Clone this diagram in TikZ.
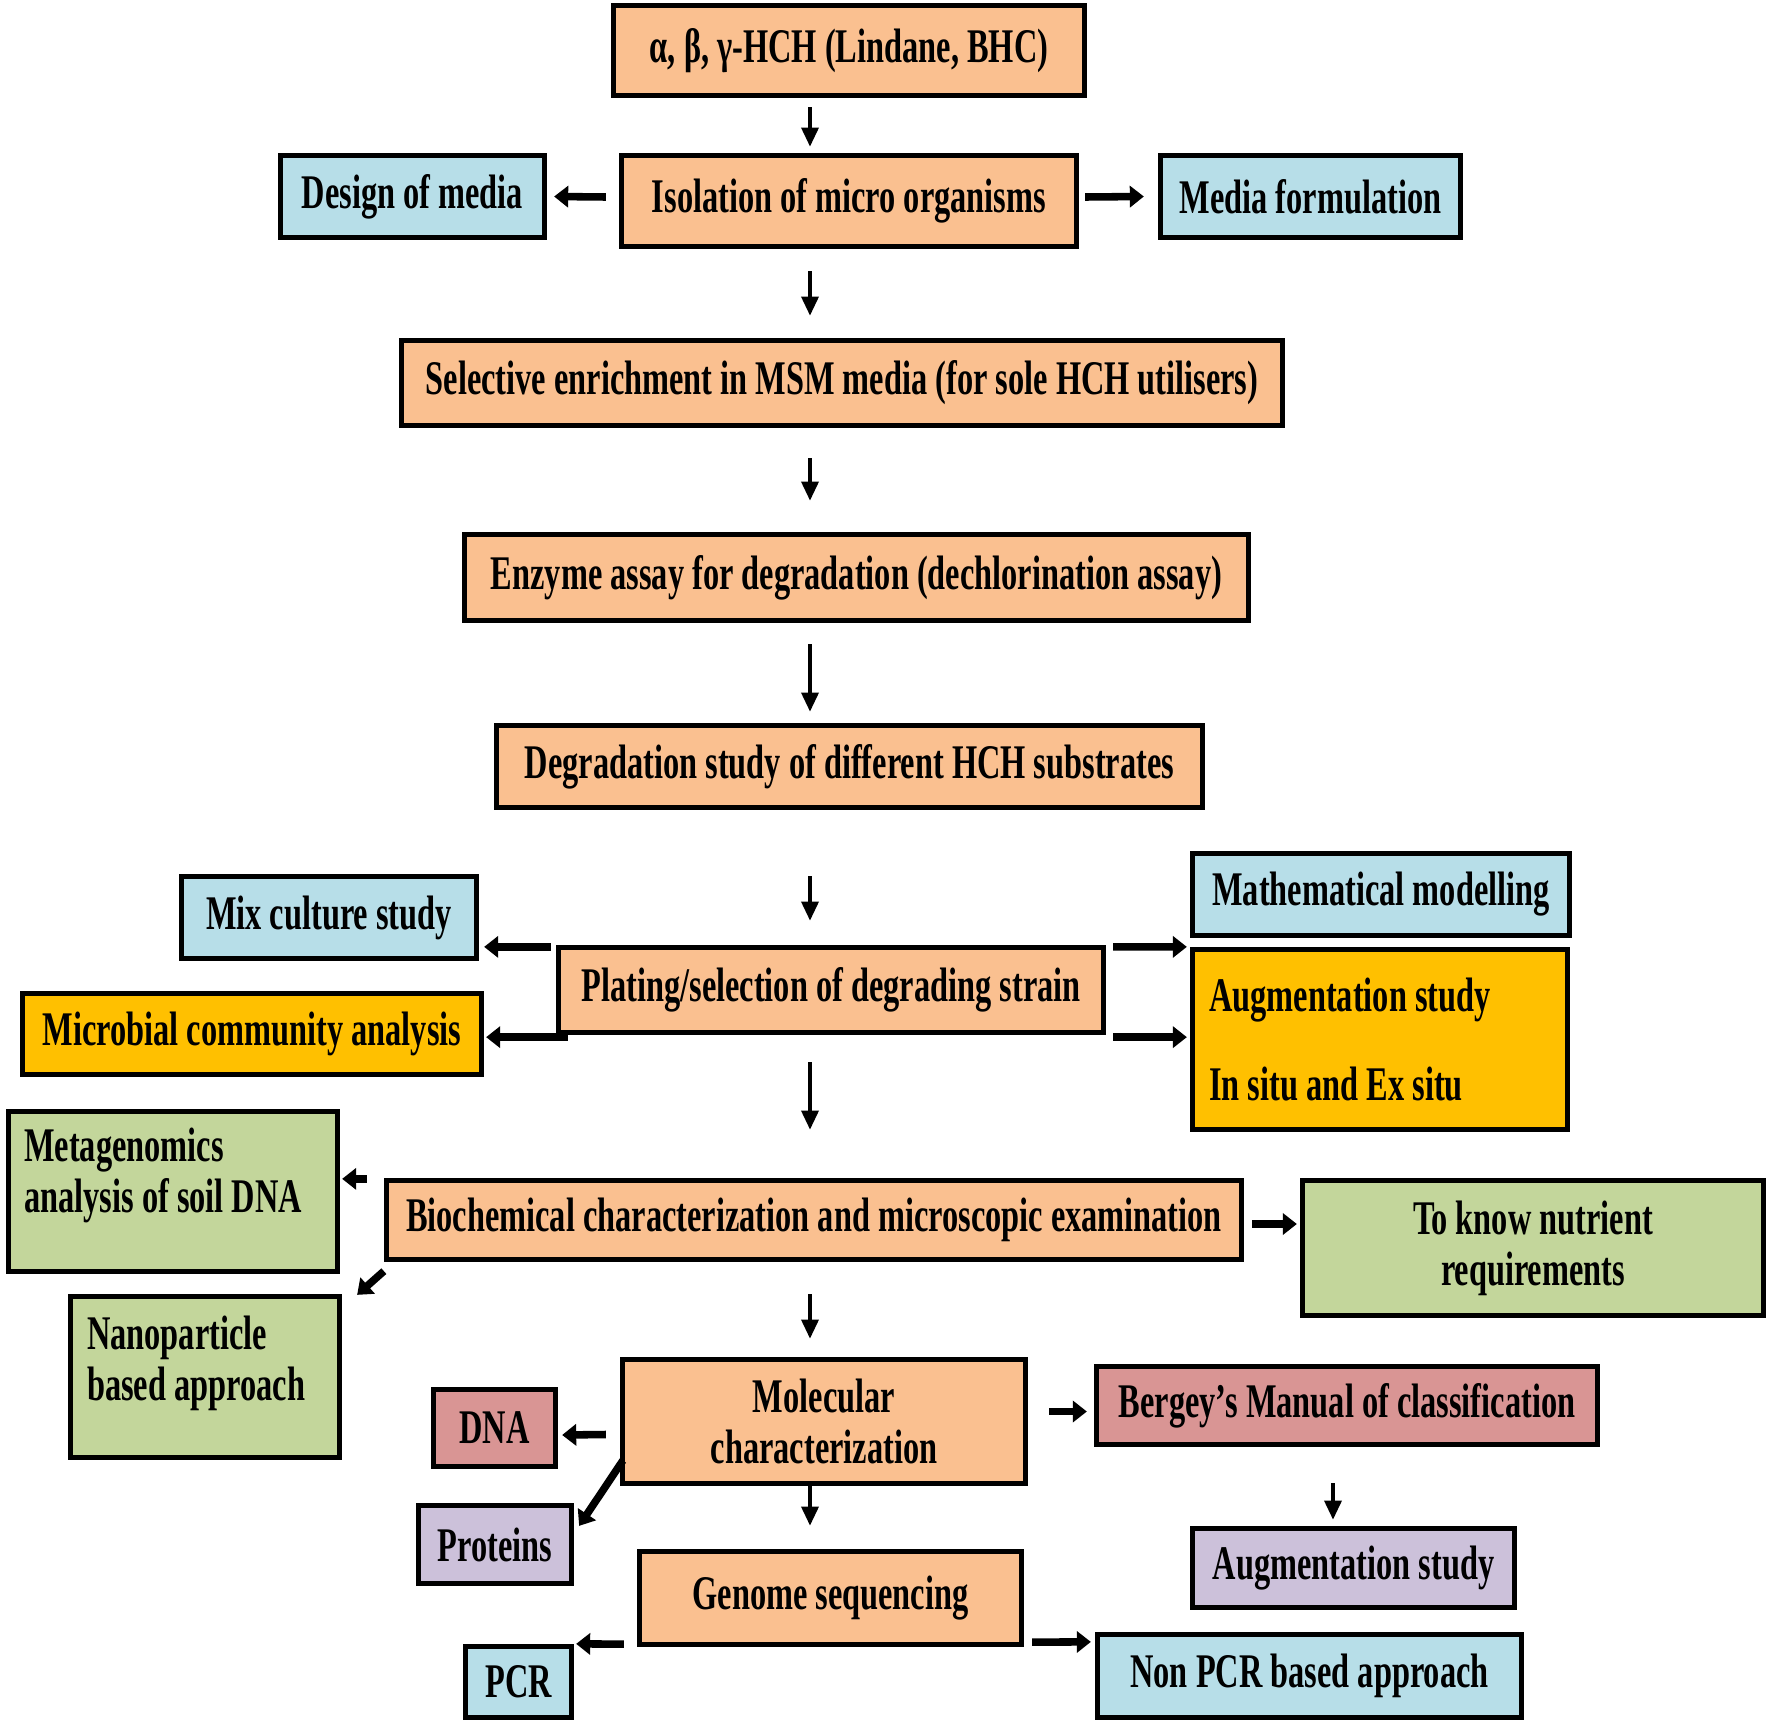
\documentclass[tikz,border=0pt]{standalone}
\usepackage{fontspec}
\setmainfont{Liberation Serif}[FakeStretch=0.67]
\usetikzlibrary{arrows.meta,calc}
\definecolor{peach}{HTML}{FAC090}
\definecolor{skyb}{HTML}{B7DEE8}
\definecolor{gold}{HTML}{FFC000}
\definecolor{olivel}{HTML}{C3D69B}
\definecolor{rose}{HTML}{D99594}
\definecolor{lav}{HTML}{CCC1DA}
\tikzset{
  txt/.style={inner sep=0pt, align=left, font=\bfseries\fontsize{27.5}{29}\selectfont},
  bx/.style={draw=black, line width=3pt, inner sep=0pt, align=center,
    font=\bfseries\fontsize{27.5}{29}\selectfont},
  wh/.style 2 args={minimum width={(#1-5)*0.02cm}, minimum height={(#2-5)*0.02cm}},
  va/.style={line width=2.5pt, -{Triangle[length=11pt,width=9.5pt]}},
  ha/.style={line width=4.3pt, -{Triangle[length=8pt,width=12pt]}},
}
\begin{document}
\begin{tikzpicture}[x=0.02cm,y=-0.02cm]
\useasboundingbox (0,0) rectangle (1772,1724);
\coordinate (ax) at (810,0);
\coordinate (bx) at (1333,0);
% boxes
\node[bx,fill=peach,wh={476}{95}] (top) at (849,50.5) {α, β, γ-HCH (Lindane, BHC)};
\node[bx,fill=peach,wh={460}{96}] (iso) at (849,201) {Isolation of micro organisms};
\node[bx,fill=skyb,wh={269}{87}] (design) at (412.5,196.5) {Design of media};
\node[bx,fill=skyb,wh={305}{87}] (mediaf) at (1310.5,196.5) {Media formulation};
\node[bx,fill=peach,wh={886}{90}] (sel) at (842,383) {Selective enrichment in MSM media (for sole HCH utilisers)};
\node[bx,fill=peach,wh={789}{91}] (enz) at (856.5,577.5) {Enzyme assay for degradation (dechlorination assay)};
\node[bx,fill=peach,wh={711}{87}] (deg) at (849.5,766.5) {Degradation study of different HCH substrates};
\node[bx,fill=peach,wh={550}{90}] (plat) at (831,990) {Plating/selection of degrading strain};
\node[bx,fill=skyb,wh={300}{87}] (mix) at (329,917.5) {Mix culture study};
\node[bx,fill=gold,wh={464}{86}] (micro) at (252,1034) {Microbial community analysis};
\node[bx,fill=skyb,wh={382}{87}] (math) at (1381,894.5) {Mathematical modelling};
\node[bx,fill=gold,wh={380}{185}] (aug) at (1380,1039.5) {};
\node[txt,anchor=west] (augt) at ($(aug.west)+(19,0)$) {Augmentation study\\[21.5pt]In situ and Ex situ};
\node[bx,fill=peach,wh={860}{84}] (bio) at (814,1220) {Biochemical characterization and microscopic examination};
\node[bx,fill=olivel,wh={334}{165}] (meta) at (173,1191.5) {};
\node[txt,anchor=west] (metat) at ($(meta.west)+(18,-16)$) {Metagenomics\\analysis of soil DNA};
\node[bx,fill=olivel,wh={274}{166}] (nano) at (205,1377) {};
\node[txt,anchor=west] (nanot) at ($(nano.west)+(19,-14)$) {Nanoparticle\\based approach};
\node[bx,fill=olivel,wh={466}{140}] (nutr) at (1533,1248) {To know nutrient\\requirements};
\node[bx,fill=peach,wh={408}{129}] (mol) at (824,1421.5) {Molecular\\characterization};
\node[bx,fill=rose,wh={127}{82}] (dna) at (494.5,1428) {DNA};
\node[bx,fill=lav,wh={158}{83}] (prot) at (495,1544.5) {Proteins};
\node[bx,fill=peach,wh={387}{98}] (gen) at (830.5,1598) {Genome sequencing};
\node[bx,fill=skyb,wh={111}{76}] (pcr) at (518.5,1682) {PCR};
\node[bx,fill=rose,wh={506}{83}] (berg) at (1347,1405.5) {Bergey’s Manual of classification};
\node[bx,fill=lav,wh={327}{84}] (augp) at (1353.5,1568) {Augmentation study};
\node[bx,fill=skyb,wh={429}{88}] (nonpcr) at (1309.5,1676) {Non PCR based approach};
% vertical arrows
\draw[va] ($(top.south -| ax)+(0,9)$) -- ($(iso.north -| ax)+(0,-6)$);
\draw[va] ($(iso.south -| ax)+(0,22)$) -- ($(sel.north -| ax)+(0,-22)$);
\draw[va] ($(sel.south -| ax)+(0,30)$) -- ($(enz.north -| ax)+(0,-31)$);
\draw[va] ($(enz.south -| ax)+(0,21)$) -- ($(deg.north -| ax)+(0,-11)$);
\draw[va] ($(deg.south -| ax)+(0,66)$) -- ($(plat.north -| ax)+(0,-24)$);
\draw[va] ($(plat.south -| ax)+(0,27)$) -- ($(bio.north -| ax)+(0,-48)$);
\draw[va] ($(bio.south -| ax)+(0,32)$) -- ($(mol.north -| ax)+(0,-18)$);
\draw[va] ($(mol.south -| ax)+(0,-2)$) -- ($(gen.north -| ax)+(0,-23)$);
\draw[va] ($(berg.south -| bx)+(0,36)$) -- ($(augp.north -| bx)+(0,-6)$);
% horizontal arrows
\draw[ha] ($(iso.west)+(-13,-4)$) -- ($(design.east)+(7,0)$);
\draw[ha] ($(iso.east)+(6,-4)$) -- ($(mediaf.west)+(-14,0)$);
\draw[ha] ($(plat.north west)+(-5,2)$) -- ($(mix.east |- plat.north)+(5,2)$);
\draw[ha] ($(plat.south west)+(12,2)$) -- ($(micro.east |- plat.south)+(2,2)$);
\draw[ha] ($(plat.north east)+(7,2)$) -- ($(aug.north west)+(-3,0)$);
\draw[ha] ($(plat.south east)+(7,2)$) -- ($(aug.west |- plat.south)+(-3,2)$);
\draw[ha] ($(bio.north west)+(-17,1)$) -- ($(meta.east |- bio.north)+(2,1)$);
\draw[ha] ($(bio.south west)+(0,9)$) -- ($(nano.north east)+(15,1)$);
\draw[ha] ($(bio.east)+(8,4)$) -- ($(nutr.west)+(-3,-24)$);
\draw[ha] ($(mol.west)+(-14,13)$) -- ($(dna.east)+(4,7)$);
\draw[ha] ($(mol.west)+(3,39)$) -- ($(prot.north east)+(5,23)$);
\draw[ha] ($(gen.south west)+(-13,-3)$) -- ($(pcr.north east)+(2,0)$);
\draw[ha] ($(gen.south east)+(8,-5)$) -- ($(nonpcr.north west)+(-4,10)$);
\draw[ha] ($(mol.east)+(21,-10)$) -- ($(berg.west)+(-7,6)$);
\end{tikzpicture}
\end{document}
